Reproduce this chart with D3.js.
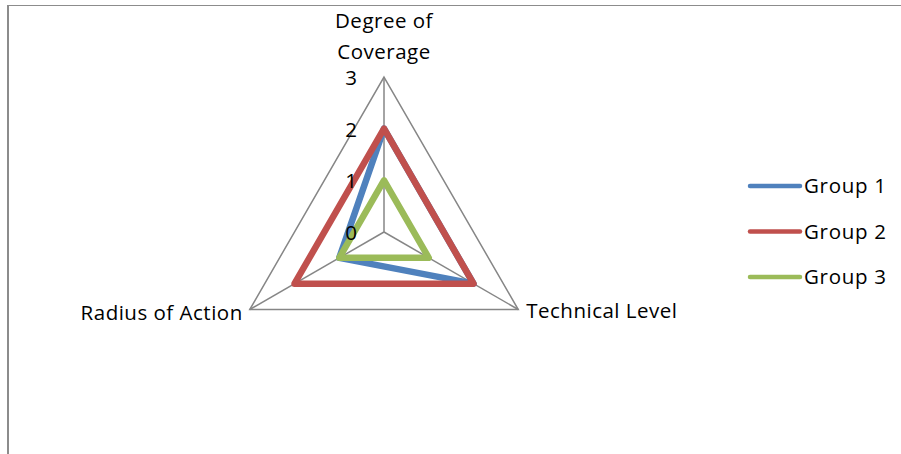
<!DOCTYPE html>
<html>
<head>
<meta charset="utf-8">
<script src="https://cdn.jsdelivr.net/npm/d3@7"></script>
<style>
  html, body { margin: 0; padding: 0; background: #fff; }
  svg { display: block; }
  text { font-family: "Open Sans", "Noto Sans", sans-serif; fill: #000; }
</style>
</head>
<body>
<svg id="chart" width="901" height="454"></svg>
<script>
// Radar chart: three criteria scored 0–3 for three groups
const axes = ["Degree of Coverage", "Technical Level", "Radius of Action"];
const axisLabelLines = [["Degree of", "Coverage"], ["Technical Level"], ["Radius of Action"]];
const groups = ["Group 1", "Group 2", "Group 3"];
const group1 = [2, 2, 1];
const group2 = [2, 2, 2];
const group3 = [1, 1, 1];
const tickValues = [0, 1, 2, 3];
const colors = ["#4F81BD", "#C0504D", "#9BBB59"];

const seriesValues = [group1, group2, group3];

const svg = d3.select("#chart");
const W = 901, H = 454;

// outer frame (top and left edges visible)
svg.append("line").attr("x1", 7).attr("x2", W).attr("y1", 5.5).attr("y2", 5.5)
  .attr("stroke", "#8c8c8c").attr("stroke-width", 1);
svg.append("line").attr("x1", 8).attr("x2", 8).attr("y1", 5).attr("y2", H)
  .attr("stroke", "#8c8c8c").attr("stroke-width", 2);

const cx = 384, cy = 232, R = 155;
const r = d3.scaleLinear().domain([0, 3]).range([0, R]);
const angle = d3.scaleLinear().domain([0, axes.length]).range([0, 2 * Math.PI]);

function pt(i, v) {
  const a = angle(i);
  return [cx + r(v) * Math.sin(a), cy - r(v) * Math.cos(a)];
}

const g = svg.append("g");
const gridColor = "#868686";

// spokes
axes.forEach((_, i) => {
  const [x, y] = pt(i, 3);
  g.append("line").attr("x1", cx).attr("y1", cy).attr("x2", x).attr("y2", y)
    .attr("stroke", gridColor).attr("stroke-width", 1.5);
});

// level rings
tickValues.filter(t => t > 0).forEach(t => {
  const pts = axes.map((_, i) => pt(i, t));
  g.append("path")
    .attr("d", d3.line()(pts) + "Z")
    .attr("fill", "none").attr("stroke", gridColor).attr("stroke-width", 1.5);
});

// series
const radarLine = d3.line().curve(d3.curveLinearClosed);
seriesValues.forEach((vals, k) => {
  const pts = vals.map((v, i) => pt(i, v));
  g.append("path")
    .attr("d", radarLine(pts))
    .attr("fill", "none")
    .attr("stroke", colors[k])
    .attr("stroke-width", 6.5)
    .attr("stroke-linejoin", "round")
    .attr("stroke-linecap", "round");
});

const fs = 20.5;
const ls = 0.5;

// tick labels along the first axis
tickValues.forEach(t => {
  const [, y] = pt(0, t);
  g.append("text").attr("x", 351).attr("y", y + 8)
    .attr("text-anchor", "middle").attr("font-size", fs).text(t);
});

// axis labels
{
  const [x] = pt(0, 3);
  axisLabelLines[0].forEach((line, j) => {
    g.append("text").attr("x", x).attr("y", 28 + j * 31)
      .attr("text-anchor", "middle").attr("font-size", fs)
      .attr("letter-spacing", ls).text(line);
  });
}
{
  const [x, y] = pt(1, 3);
  g.append("text").attr("x", x + 8).attr("y", y + 8)
    .attr("text-anchor", "start").attr("font-size", fs)
    .attr("letter-spacing", ls).text(axisLabelLines[1][0]);
}
{
  const [x, y] = pt(2, 3);
  g.append("text").attr("x", x - 7).attr("y", y + 10)
    .attr("text-anchor", "end").attr("font-size", fs)
    .attr("letter-spacing", ls).text(axisLabelLines[2][0]);
}

// legend
const ly = d3.scalePoint().domain(groups).range([186, 277]);
const legend = svg.append("g");
groups.forEach((name, k) => {
  const y = ly(name);
  legend.append("line").attr("x1", 750).attr("x2", 800).attr("y1", y).attr("y2", y)
    .attr("stroke", colors[k]).attr("stroke-width", 4.5).attr("stroke-linecap", "round");
  legend.append("text").attr("x", 804).attr("y", y + 7)
    .attr("font-size", fs).attr("letter-spacing", 0.7).text(name);
});
</script>
</body>
</html>
